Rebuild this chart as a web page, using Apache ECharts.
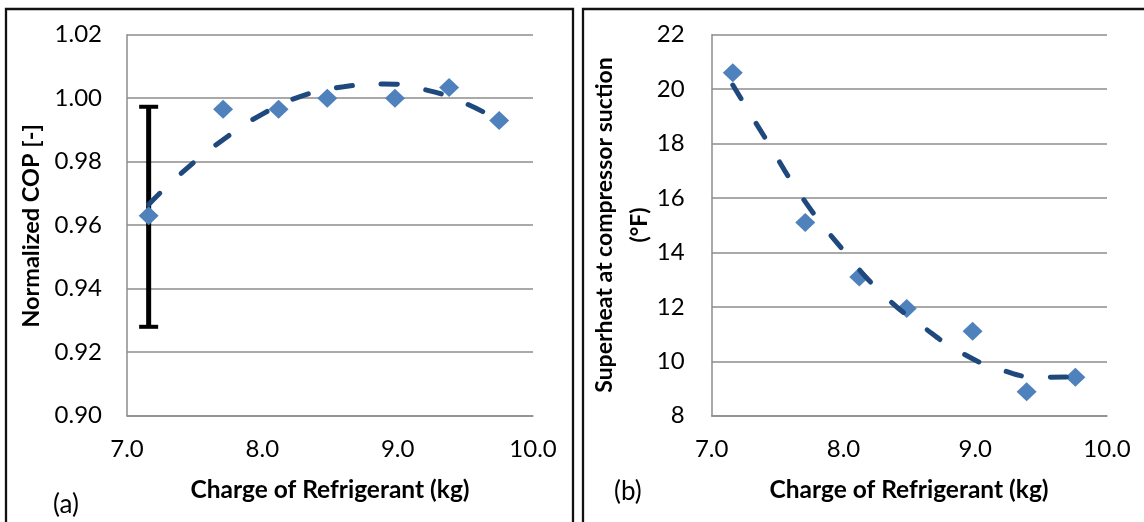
<!DOCTYPE html>
<html>
<head>
<meta charset="utf-8">
<script src="https://cdn.jsdelivr.net/npm/echarts@6/dist/echarts.min.js"></script>
<style>
  html, body { margin: 0; padding: 0; background: #fff; }
  #chart { width: 1144px; height: 522px; }
</style>
</head>
<body>
<div id="chart"></div>
<script>
// panel (a): normalized COP
const chargeA = [7.16, 7.71, 8.12, 8.48, 8.98, 9.38, 9.75]
const copA = [0.963, 0.9965, 0.9965, 1.000, 1.000, 1.0034, 0.993]
const errCharge = [7.16]
const errLow = [0.928]
const errHigh = [0.9973]
const trendAx = [7.16, 7.4, 7.7, 8.0, 8.3, 8.6, 8.9, 9.2, 9.5, 9.75]
const trendAy = [0.9665, 0.9763, 0.9866, 0.9950, 1.0008, 1.0036, 1.0045, 1.0027, 0.9984, 0.9928]

// panel (b): superheat at compressor suction
const chargeB = [7.16, 7.71, 8.12, 8.48, 8.98, 9.39, 9.76]
const superheatB = [20.6, 15.1, 13.1, 11.94, 11.1, 8.88, 9.41]
const trendBx = [7.16, 7.4, 7.7, 8.0, 8.3, 8.6, 8.9, 9.2, 9.5, 9.75]
const trendBy = [20.15, 18.25, 15.93, 14.07, 12.46, 11.28, 10.3, 9.68, 9.41, 9.43]

const xTicks = [7, 8, 9, 10]

const FONT = 'Lato'
const gridColor = '#8c8c8c'
const markerColor = '#4f81bd'
const trendColor = '#1f497d'

const zip = (a, b) => a.map((v, i) => [v, b[i]])

const xAxisBase = (gridIndex) => ({
  type: 'value',
  gridIndex,
  min: xTicks[0],
  max: xTicks[xTicks.length - 1],
  interval: 1,
  axisLine: { lineStyle: { color: gridColor, width: 1.5 } },
  axisTick: { show: false },
  splitLine: { show: false },
  axisLabel: {
    margin: 22,
    fontFamily: FONT,
    fontSize: 24,
    color: '#000',
    formatter: (v) => v.toFixed(1)
  }
})

const yAxisBase = (gridIndex, min, max, interval, digits, margin) => ({
  type: 'value',
  gridIndex,
  min,
  max,
  interval,
  axisLine: { show: true, lineStyle: { color: gridColor, width: 1.5 } },
  axisTick: { show: false },
  splitLine: { lineStyle: { color: gridColor, width: 1.5 } },
  axisLabel: {
    margin,
    fontFamily: FONT,
    fontSize: 24,
    color: '#000',
    formatter: (v) => v.toFixed(digits)
  }
})

const scatter = (idx, data) => ({
  type: 'scatter',
  xAxisIndex: idx,
  yAxisIndex: idx,
  symbol: 'diamond',
  symbolSize: [20, 19],
  itemStyle: { color: markerColor, opacity: 1 },
  z: 3,
  data
})

const trend = (idx, data) => ({
  type: 'line',
  xAxisIndex: idx,
  yAxisIndex: idx,
  smooth: true,
  showSymbol: false,
  lineStyle: { color: trendColor, width: 5, type: [16, 29], cap: 'round' },
  z: 4,
  data
})

const chart = echarts.init(document.getElementById('chart'), null, { renderer: 'canvas' })

chart.setOption({
  animation: false,
  grid: [
    { left: 127, top: 34.7, width: 406, height: 381 },
    { left: 711.7, top: 34.7, width: 395.3, height: 381 }
  ],
  xAxis: [xAxisBase(0), xAxisBase(1)],
  yAxis: [
    yAxisBase(0, 0.90, 1.02, 0.02, 2, 25),
    yAxisBase(1, 8, 22, 2, 0, 27)
  ],
  graphic: [
    { type: 'rect', shape: { x: 6, y: 9, width: 567, height: 560 }, style: { fill: 'none', stroke: '#111', lineWidth: 2.3 } },
    { type: 'rect', shape: { x: 583, y: 9, width: 600, height: 560 }, style: { fill: 'none', stroke: '#111', lineWidth: 2.3 } },
    {
      type: 'text', x: 31, y: 226, rotation: Math.PI / 2,
      style: { text: 'Normalized COP [-]', fontFamily: FONT, fontWeight: 'bold', fontSize: 23.5, fill: '#000', align: 'center', verticalAlign: 'middle' }
    },
    {
      type: 'text', x: 622, y: 225, rotation: Math.PI / 2,
      style: { text: 'Superheat at compressor suction\n(°F)', fontFamily: FONT, fontWeight: 'bold', fontSize: 23, lineHeight: 35, fill: '#000', align: 'center', verticalAlign: 'middle' }
    },
    {
      type: 'text', x: 330, y: 490,
      style: { text: 'Charge of Refrigerant (kg)', fontFamily: FONT, fontWeight: 'bold', fontSize: 24.5, fill: '#000', align: 'center', verticalAlign: 'middle' }
    },
    {
      type: 'text', x: 909, y: 490,
      style: { text: 'Charge of Refrigerant (kg)', fontFamily: FONT, fontWeight: 'bold', fontSize: 24.5, fill: '#000', align: 'center', verticalAlign: 'middle' }
    },
    {
      type: 'text', x: 53, y: 505,
      style: { text: '(a)', fontFamily: FONT, fontSize: 26, fill: '#000', align: 'left', verticalAlign: 'middle' }
    },
    {
      type: 'text', x: 614, y: 492,
      style: { text: '(b)', fontFamily: FONT, fontSize: 26, fill: '#000', align: 'left', verticalAlign: 'middle' }
    }
  ],
  series: [
    {
      type: 'custom',
      xAxisIndex: 0,
      yAxisIndex: 0,
      z: 2,
      data: errCharge.map((x, i) => [x, errLow[i], errHigh[i]]),
      encode: { x: 0, y: [1, 2] },
      renderItem: (params, api) => {
        const lo = api.coord([api.value(0), api.value(1)])
        const hi = api.coord([api.value(0), api.value(2)])
        const half = 9.5
        const st = { stroke: '#000', lineWidth: 5 }
        const cap = { stroke: '#000', lineWidth: 4 }
        return {
          type: 'group',
          children: [
            { type: 'line', shape: { x1: lo[0], y1: lo[1], x2: hi[0], y2: hi[1] }, style: st },
            { type: 'line', shape: { x1: lo[0] - half, y1: lo[1], x2: lo[0] + half, y2: lo[1] }, style: cap },
            { type: 'line', shape: { x1: hi[0] - half, y1: hi[1], x2: hi[0] + half, y2: hi[1] }, style: cap }
          ]
        }
      }
    },
    scatter(0, zip(chargeA, copA)),
    trend(0, zip(trendAx, trendAy)),
    scatter(1, zip(chargeB, superheatB)),
    trend(1, zip(trendBx, trendBy))
  ]
})
</script>
</body>
</html>
